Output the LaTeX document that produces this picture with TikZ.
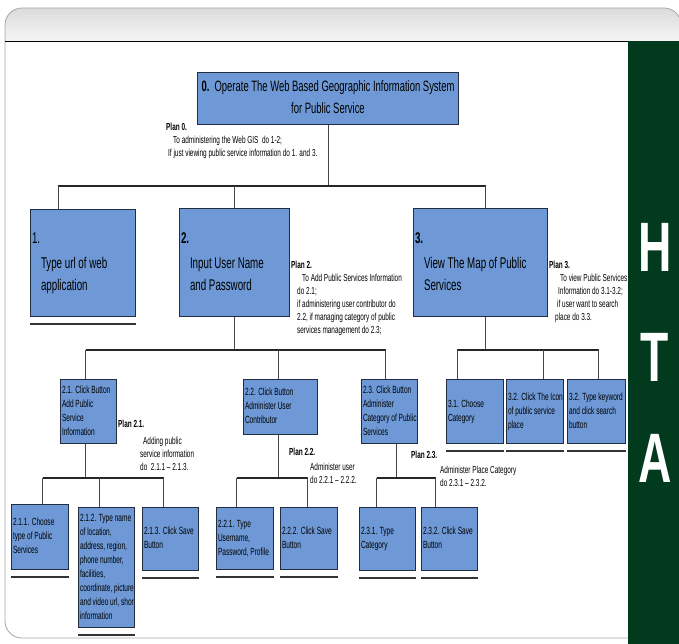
\documentclass[tikz,border=0pt]{standalone}
\usepackage{fontspec}
\setmainfont{Liberation Sans}[FakeStretch=0.63]
\newfontfamily\htafont{Liberation Sans}[FakeStretch=0.66]
\usepackage{tikz}
\definecolor{boxblue}{RGB}{110,153,214}
\definecolor{boxline}{RGB}{35,45,65}
\definecolor{htagreen}{RGB}{2,58,30}
\definecolor{linkgray}{RGB}{70,70,70}
\newcommand{\topfont}{\fontsize{15}{22}\selectfont}
\newcommand{\levelfont}{\fontsize{15.5}{22}\selectfont}
\newcommand{\taskfont}{\fontsize{10.4}{14}\selectfont}
\newcommand{\planfont}{\fontsize{10.2}{13}\selectfont}
\newcommand{\tasklines}[1]{\begin{tabular}{@{}l@{}}#1\end{tabular}}
\newcommand{\planlines}[1]{\begin{tabular}[t]{@{}l@{}}#1\end{tabular}}

\tikzset{
  task/.style={draw=boxline, fill=boxblue, line width=1pt, anchor=north west,
    align=flush left, inner xsep=1.5pt, inner ysep=1pt, font=\taskfont},
  tsize/.style 2 args={minimum width=#1pt, minimum height=#2pt, text width=#1pt-3pt},
  plan/.style={anchor=base west, inner sep=0pt, font=\planfont},
  link/.style={draw=linkgray, line width=1pt},
  bar/.style={draw=black!85, line width=1.8pt},
  endline/.style={draw=black!80, line width=2pt},
  htaletter/.style={text=white, inner sep=0pt, font=\htafont\bfseries\fontsize{70}{70}\selectfont}
}

\begin{document}
\begin{tikzpicture}[x=1pt, y=-1pt]
\useasboundingbox (0,0) rectangle (679,644);
\clip (0,0) rectangle (679,644);

% Slide frame
\shade[top color=gray!28, bottom color=gray!8] (5,41) [rounded corners=17pt] -- (5,8) -- (681,8) [sharp corners] -- (681,41) -- cycle;
\draw[gray!70, line width=0.8pt] (5,41) [rounded corners=17pt] -- (5,8) -- (681,8) -- (681,41);
\draw[gray!70, line width=0.8pt] (5,41) [rounded corners=17pt] -- (5,638) -- (690,638);
\draw[black, line width=0.8pt] (5,41) -- (681,41);
\fill[htagreen] (628,41) rectangle (681,646);

\node[htaletter] (lh) at (655,247) {H};
\node[htaletter] (lt) at (655,357) {T};
\node[htaletter] (la) at (655,458) {A};

% Tasks
\node[task, minimum width=261pt, minimum height=52pt, inner sep=0pt, font=\topfont] (t0) at (197,72)
  {\begin{tabular}{@{}c@{}}\textbf{0.}\ \ Operate The Web Based Geographic Information System\\for Public Service\end{tabular}};

\node[task, tsize={105}{107}, font=\levelfont] (t1) at (30,209)
  {\tasklines{1.\\[3pt]\hspace*{9pt}Type url of web\\\hspace*{9pt}application}};
\node[task, tsize={110}{108}, font=\levelfont] (t2) at (179,208)
  {\tasklines{\textbf{2.}\\[3pt]\hspace*{9pt}Input User Name\\\hspace*{9pt}and Password}};
\node[task, tsize={134}{108}, font=\levelfont] (t3) at (413,208)
  {\tasklines{\textbf{3.}\\[3pt]\hspace*{9pt}View The Map of Public\\\hspace*{9pt}Services}};

\node[task, tsize={56}{64}] (t21) at (60,379) {\tasklines{2.1. Click Button\\Add Public\\Service\\Information}};
\node[task, tsize={74}{55}] (t22) at (243,379) {\tasklines{2.2. Click Button\\Administer User\\Contributor}};
\node[task, tsize={56}{64}] (t23) at (361,379) {\tasklines{2.3. Click Button\\Administer\\Category of Public\\Services}};
\node[task, tsize={57}{64}] (t31) at (446,379) {\tasklines{3.1. Choose\\Category}};
\node[task, tsize={57}{64}] (t32) at (506,379) {\tasklines{3.2. Click The Icon\\of public service\\place}};
\node[task, tsize={58}{64}] (t33) at (567,379) {\tasklines{3.2. Type keyword\\and click search\\button}};

\node[task, tsize={57}{65}] (t211) at (11,504) {\tasklines{2.1.1. Choose\\type of Public\\Services}};
\node[task, tsize={56}{120}] (t212) at (78,507) {\tasklines{2.1.2. Type name\\of location,\\address, region,\\phone number,\\facilities,\\coordinate, picture\\and video url, shor\\information}};
\node[task, tsize={56}{63}] (t213) at (142,507) {\tasklines{2.1.3. Click Save\\Button}};
\node[task, tsize={57}{62}] (t221) at (216,507) {\tasklines{2.2.1. Type\\Username,\\Password, Profile}};
\node[task, tsize={57}{62}] (t222) at (280,507) {\tasklines{2.2.2. Click Save\\Button}};
\node[task, tsize={56}{63}] (t231) at (359,507) {\tasklines{2.3.1. Type\\Category}};
\node[task, tsize={56}{63}] (t232) at (421,507) {\tasklines{2.3.2. Click Save\\Button}};

% Plans
\node[plan] (p0) at (166,131) {\planlines{\textbf{Plan 0.}\\\hspace*{7pt}To administering the Web GIS\ \ do 1-2;\\\hspace*{2pt}If just viewing public service information do 1. and 3.}};
\node[plan] (p2) at (291,268) {\planlines{\textbf{Plan 2.}\\\hspace*{11pt}To Add Public Services Information\\\hspace*{6pt}do 2.1;\\\hspace*{6pt}if administering user contributor do\\\hspace*{6pt}2.2, if managing category of public\\\hspace*{6pt}services management do 2.3;}};
\node[plan] (p3) at (549,268) {\planlines{\textbf{Plan 3.}\\\hspace*{11pt}To view Public Services\\\hspace*{9pt}Information do 3.1-3.2;\\\hspace*{8pt}if user want to search\\\hspace*{6pt}place do 3.3.}};
\node[plan] (p21) at (118,427) {\planlines{\textbf{Plan 2.1.}\\[4pt]\hspace*{25pt}Adding public\\\hspace*{22pt}service information\\\hspace*{22pt}do\ \ 2.1.1 – 2.1.3.}};
\node[plan] (p22) at (289,455) {\planlines{\textbf{Plan 2.2.}\\[2pt]\hspace*{21pt}Administer user\\\hspace*{21pt}do 2.2.1 – 2.2.2.}};
\node[plan] (p23) at (411,458) {\planlines{\textbf{Plan 2.3.}\\[2pt]\hspace*{29pt}Administer Place Category\\\hspace*{29pt}do 2.3.1 – 2.3.2.}};

% Connections
\coordinate (b0) at (0,186);
\draw[link] (t0.south) -- (t0.south |- b0);
\draw[bar] ([xshift=-25pt]t1.north |- b0) -- ([xshift=5pt]t3.north |- b0);
\foreach \n/\dx in {t1/-25, t2/0, t3/5}
  \draw[link] ([xshift=\dx pt]\n.north |- b0) -- ([xshift=\dx pt]\n.north);

\coordinate (b2) at (0,350);
\draw[link] (t2.south) -- (t2.south |- b2);
\draw[bar] ([xshift=-3pt]t21.north |- b2) -- ([xshift=-4pt]t23.north |- b2);
\foreach \n/\dx in {t21/-3, t22/-2, t23/-4}
  \draw[link] ([xshift=\dx pt]\n.north |- b2) -- ([xshift=\dx pt]\n.north);

\draw[link] ([xshift=5pt]t3.south) -- ([xshift=5pt]t3.south |- b2);
\draw[bar] ([xshift=-18pt]t31.north |- b2) -- ([xshift=2pt]t33.north |- b2);
\foreach \n/\dx in {t31/-18, t32/8, t33/2}
  \draw[link] ([xshift=\dx pt]\n.north |- b2) -- ([xshift=\dx pt]\n.north);

\coordinate (b3) at (0,478);
\draw[link] ([xshift=-3pt]t21.south) -- ([xshift=-3pt]t21.south |- b3);
\draw[bar] ([xshift=2.5pt]t211.north |- b3) -- ([xshift=-7pt]t213.north |- b3);
\foreach \n/\dx in {t211/2.5, t212/-7, t213/-7}
  \draw[link] ([xshift=\dx pt]\n.north |- b3) -- ([xshift=\dx pt]\n.north);

\draw[link] ([xshift=-2pt]t22.south) -- ([xshift=-2pt]t22.south |- b3);
\draw[bar] ([xshift=-8.5pt]t221.north |- b3) -- ([xshift=-1.5pt]t222.north |- b3);
\foreach \n/\dx in {t221/-8.5, t222/-1.5}
  \draw[link] ([xshift=\dx pt]\n.north |- b3) -- ([xshift=\dx pt]\n.north);

\draw[link] ([xshift=7pt]t23.south) -- ([xshift=7pt]t23.south |- b3);
\draw[bar] ([xshift=-11pt]t231.north |- b3) -- ([xshift=-14pt]t232.north |- b3);
\foreach \n/\dx in {t231/-11, t232/-14}
  \draw[link] ([xshift=\dx pt]\n.north |- b3) -- ([xshift=\dx pt]\n.north);

% Bottom-level underlines
\foreach \n in {t1,t31,t32,t33,t211,t212,t213,t221,t222,t231,t232}
  \draw[endline] ([yshift=-7pt]\n.south west) -- ([yshift=-7pt]\n.south east);
\end{tikzpicture}
\end{document}
